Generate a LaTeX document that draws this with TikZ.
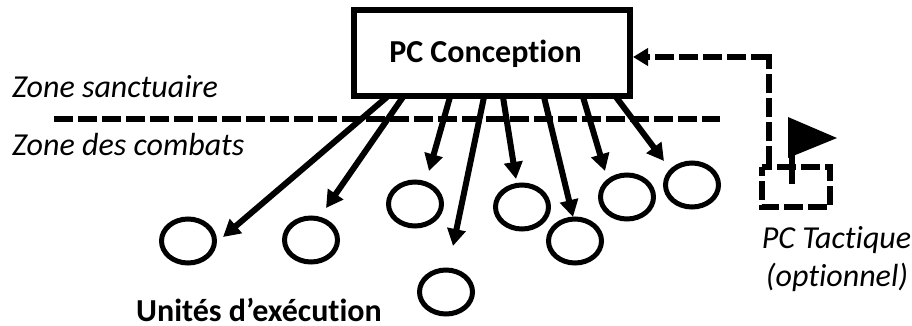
\documentclass[tikz,border=0pt]{standalone}
\usepackage{fontspec}
\setmainfont[Ligatures=NoCommon]{Carlito}
\usetikzlibrary{arrows.meta,shapes.geometric}
\tikzset{
  unit/.style={draw=black,line width=5pt,ellipse,minimum width=53pt,minimum height=44pt,inner sep=0pt,outer sep=2.5pt},
  pcbox/.style={draw=black,line width=6pt,rectangle,minimum width=276pt,minimum height=86pt,inner sep=0pt,outer sep=3pt},
  tactbox/.style={rectangle,minimum width=68pt,minimum height=40pt,inner sep=0pt,outer sep=0pt},
  tactline/.style={line width=6pt,dash pattern=on 18.67pt off 5.33pt,dash phase=9pt},
  order/.style={line width=6pt,-{Triangle[length=17pt,width=18pt]}},
  dashline/.style={line width=6pt,dash pattern=on 18.67pt off 5.33pt},
  lab/.style={inner sep=0pt,font=\fontsize{32}{36}\selectfont\itshape},
  strong/.style={inner sep=0pt,font=\fontsize{32}{36}\selectfont\bfseries},
}
\begin{document}
\begin{tikzpicture}[x=1pt,y=-1pt]
\useasboundingbox (0,0) rectangle (912,325);
\node[pcbox] (box) at (492,53) {};
\node[strong,anchor=base] (boxlabel) at (485.5,62) {PC Conception};
\node[unit] (e1) at (188,241) {};
\node[unit] (e2) at (311,240) {};
\node[unit] (e3) at (415,204) {};
\node[unit] (e4) at (446,292) {};
\node[unit] (e5) at (522,207) {};
\node[unit] (e6) at (575,241) {};
\node[unit] (e7) at (627,197) {};
\node[unit] (e8) at (692,185) {};
\node[tactbox] (tact) at (796,187) {};
\draw[tactline] (tact.north west) -- (tact.north east) -- (tact.south east) -- (tact.south west) -- cycle;
\coordinate (lineL) at (54,119);
\coordinate (lineR) at (720,119);
\draw[dashline] (lineL) -- (lineR);
\foreach \i/\sx/\tx/\ty in {1/387/223/237,2/403/326/208,3/450/429/171,4/484/453/246,5/503/516/179,6/544/573/217,7/583/605/171,8/616/664/161}{
  \coordinate (s\i) at (\sx,97);
  \coordinate (t\i) at (\tx,\ty);
  \draw[order] (s\i) -- (t\i);
}
\coordinate (tacttop) at (769,165);
\coordinate (cornerV) at (769,54);
\coordinate (cornerH) at (770,57);
\coordinate (boxin) at (633,57);
\draw[dashline] (tacttop) -- (cornerV);
\draw[dashline,-{Triangle[length=15pt,width=17pt]}] (cornerH) -- (boxin);
\coordinate (poleB) at (792,184);
\coordinate (poleT) at (792,140);
\draw[line width=6pt] (poleB) -- (poleT);
\fill[black] (788,117) -- (837,138) -- (788,158) -- cycle;
\node[lab,anchor=base west] (z1) at (12,97) {Zone sanctuaire};
\node[lab,anchor=base west] (z2) at (12,155) {Zone des combats};
\node[lab,anchor=base] (pt) at (836.5,248) {PC Tactique};
\node[lab,anchor=base] (op) at (837,286) {(optionnel)};
\node[strong,anchor=base west] (ue) at (136,321.5) {Unités d’exécution};
\end{tikzpicture}
\end{document}
